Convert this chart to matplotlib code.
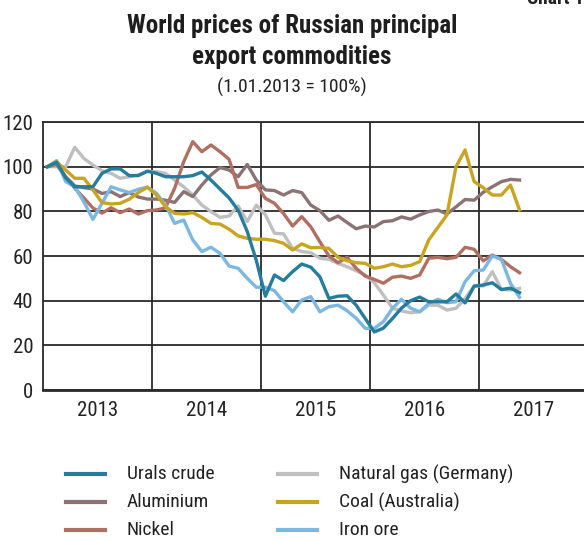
import numpy as np
import matplotlib
matplotlib.use("Agg")
import matplotlib.pyplot as plt
from matplotlib import font_manager as fm
from matplotlib.lines import Line2D

# monthly index values, Jan 2013 .. May 2017 (1.01.2013 = 100)
urals = [100, 102, 95, 91, 91, 91, 97, 99, 99, 96, 96, 98,
         97, 95.5, 95.5, 95.5, 96, 97.6, 94, 90, 86, 80.5, 71, 58,
         42, 51.5, 49, 53, 56.4, 55, 50.7, 41, 42, 42.2, 38, 32,
         26, 27.7, 32, 36.7, 40, 41.6, 39.5, 39.5, 39.5, 43, 39, 46.5,
         47, 48, 45, 45.6, 43.6]
aluminium = [100, 101.5, 95.5, 91.4, 90.6, 90, 88, 88.8, 86.6, 88.4, 86.4, 85.5,
             85.5, 85, 84, 88.8, 86.6, 91.8, 96.3, 99.6, 98.5, 95.5, 101, 94,
             89.6, 89.3, 87.3, 89.3, 88.4, 82.8, 80.3, 76, 77.9, 75, 72.2, 73.4,
             73, 75.4, 75.8, 77.5, 76.5, 78.4, 79.9, 80.6, 78.8, 82, 85.3, 85,
             88.5, 91, 93.3, 94.3, 94]
nickel = [100, 101, 95, 90.4, 86, 81.5, 79.2, 81.6, 79.4, 81, 78.8, 80.3,
          80.6, 81.6, 90.3, 102.2, 111.2, 106.7, 109.7, 106.7, 103.3, 90.7, 90.7, 92,
          85.8, 83.6, 79, 73.4, 77.6, 73.1, 66.4, 60, 57, 59.4, 54.5, 51,
          49.5, 47.8, 50.5, 51, 50, 51.5, 59, 59.4, 58.8, 59.4, 63.9, 63,
          57.8, 60.4, 58.5, 55.2, 52.5]
nat_gas = [100, 100, 100, 108.7, 103.7, 100.7, 98.2, 97, 94.8, 95.5, 96.3, 97.8,
           97.8, 97, 94, 91, 87.3, 82.8, 79.9, 77.3, 77.9, 82.4, 75.4, 82.8,
           78.4, 70.2, 69.9, 63.4, 62, 61.5, 59, 58.5, 56.7, 55.2, 53.4, 51.5,
           48, 42.5, 36.6, 35.4, 34.6, 35, 38, 38, 35.8, 36.6, 41, 46.6,
           46.6, 53, 45, 44.8, 45.5]
coal = [100, 102.2, 98.5, 94.8, 94.8, 89.6, 83.9, 83.3, 83.6, 85.4, 88.4, 90.8,
        87.3, 82.1, 79.1, 78.8, 79.4, 77.3, 74.6, 74.3, 72, 69, 67.9, 67.5,
        67.5, 66.9, 65.7, 62.7, 65.4, 63.7, 63.8, 63.4, 59.4, 57.9, 57, 56.7,
        54.5, 55.2, 56.4, 55.2, 55.8, 57.5, 67.2, 72.8, 78.4, 100, 107.5, 93.3,
        90.6, 87.3, 87.3, 91.8, 80.6]
iron_ore = [100, 102.7, 93.3, 91, 84.3, 76.4, 83.6, 91, 89.6, 88.4, 89.9, 90.8,
            88.1, 82.8, 74.6, 76.1, 67.2, 62, 63.9, 61.2, 55.5, 54.5, 50, 46,
            46, 44.5, 39.5, 35, 40.3, 41.8, 35, 37.3, 38, 35.5, 32.1, 27.6,
            27.6, 30.6, 36.6, 40.6, 36.6, 35, 38.8, 40.6, 39.1, 39.5, 48.5, 53.4,
            53.7, 60, 58.5, 47.8, 41.5]

years = ['2013', '2014', '2015', '2016', '2017']
yticks = [0, 20, 40, 60, 80, 100, 120]

c_urals = '#247d9c'
c_alu = '#8b7373'
c_nickel = '#b06f61'
c_gas = '#bfbfbf'
c_coal = '#c9a422'
c_iron = '#7ab8e3'


# look for a condensed / narrow face, the original uses a condensed sans
def find_face(bold):
    prefs = ['liberationsansnarrow', 'robotocondensed', 'opensanscondensed',
             'dejavusanscondensed', 'notosanscondensed', 'condensed', 'narrow']
    best = None
    for f in fm.fontManager.ttflist:
        fn = f.fname.lower().replace('-', '').replace('_', '').replace(' ', '')
        if 'italic' in fn or 'oblique' in fn:
            continue
        isbold = f.weight in ('bold', 700, 'heavy', 800) or 'bold' in fn
        if isbold != bold:
            continue
        for rank, p in enumerate(prefs):
            if p in fn:
                if best is None or rank < best[0]:
                    best = (rank, f.fname)
                break
    return best[1] if best else None


reg_path = find_face(False)
bold_path = find_face(True)
if reg_path:
    fp_reg = fm.FontProperties(fname=reg_path)
    scale = 1.0
else:
    fp_reg = fm.FontProperties(family='DejaVu Sans')
    scale = 0.8
if bold_path:
    fp_bold = fm.FontProperties(fname=bold_path)
else:
    fp_bold = fm.FontProperties(family='DejaVu Sans', weight='bold')
    scale = min(scale, 0.8)


def fp(base, size):
    p = base.copy()
    p.set_size(size * scale)
    return p


fig = plt.figure(figsize=(5.84, 5.41), dpi=100)
ax = fig.add_axes([43/584, 1-390/541, 1-43/584, 268/541])

months = np.arange(len(urals))
lw = 2.4
l_gas, = ax.plot(months, nat_gas, color=c_gas, lw=lw, label='Natural gas (Germany)')
l_alu, = ax.plot(months, aluminium, color=c_alu, lw=lw, label='Aluminium')
l_nickel, = ax.plot(months, nickel, color=c_nickel, lw=lw, label='Nickel')
l_iron, = ax.plot(months, iron_ore, color=c_iron, lw=lw, label='Iron ore')
l_coal, = ax.plot(months, coal, color=c_coal, lw=lw, label='Coal (Australia)')
l_urals, = ax.plot(months, urals, color=c_urals, lw=lw, label='Urals crude')

ax.set_xlim(-0.5, 59.1)
ax.set_ylim(0, 120)
ax.set_yticks(yticks)
ax.set_yticklabels([str(v) for v in yticks], fontproperties=fp(fp_reg, 15), color='#222222')
# year boundaries as grid lines, labels centred in each year
ax.set_xticks([11.5, 23.5, 35.5, 47.5], minor=False)
ax.set_xticklabels([])
ax.set_xticks([5.5 + 12*k for k in range(len(years))], minor=True)
ax.set_xticklabels(years, minor=True, fontproperties=fp(fp_reg, 15), color='#222222')
ax.tick_params(axis='both', which='both', length=0)
ax.tick_params(axis='x', which='minor', pad=8)
ax.tick_params(axis='y', pad=7)
ax.grid(True, which='major', color='#2a2a2a', lw=1.3)
ax.set_axisbelow(True)
for s in ['left', 'top']:
    ax.spines[s].set_color('#2a2a2a')
    ax.spines[s].set_linewidth(1.3)
ax.spines['bottom'].set_color('#2a2a2a')
ax.spines['bottom'].set_linewidth(2)
ax.spines['right'].set_visible(False)

fig.text(0.5, 1-26/541, 'World prices of Russian principal', ha='center', va='center',
         fontproperties=fp(fp_bold, 18), color='#1e1e1e')
fig.text(0.5, 1-57/541, 'export commodities', ha='center', va='center',
         fontproperties=fp(fp_bold, 18), color='#1e1e1e')
fig.text(0.5, 1-87/541, '(1.01.2013 = 100%)', ha='center', va='center',
         fontproperties=fp(fp_reg, 14), color='#222222')
fig.text(1.0, 1-4/541, 'Chart 1', ha='right', va='baseline',
         fontproperties=fp(fp_bold, 14), color='#222222')

# legend, two columns of three, placed in figure pixels
W, H = 584, 541
handles = [l_urals, l_alu, l_nickel, l_gas, l_coal, l_iron]
col_x = [(66, 105, 127), (278, 317, 339)]
row_y = [474, 502, 530]
for k, h in enumerate(handles):
    x0, x1, xt = col_x[k // 3]
    y = row_y[k % 3]
    fig.add_artist(Line2D([x0/W, x1/W], [1-y/H, 1-y/H], color=h.get_color(),
                          lw=3.0, transform=fig.transFigure))
    fig.text(xt/W, 1-y/H, h.get_label(), ha='left', va='center',
             fontproperties=fp(fp_reg, 14), color='#222222')

fig.savefig('out.png', dpi=100)
